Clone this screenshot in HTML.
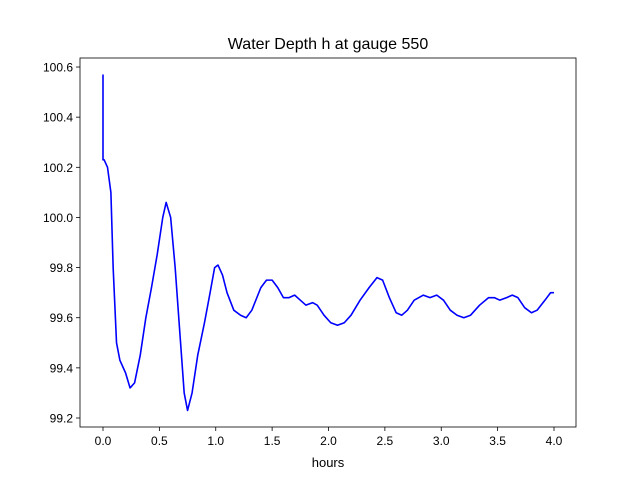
<!DOCTYPE html>
<html><head><meta charset="utf-8"><style>
body{margin:0;background:#fff;}
svg{display:block;font-family:"Liberation Sans",sans-serif;}
</style></head><body>
<svg id="chart" width="640" height="480">
<rect width="640" height="480" fill="#fff"/>
<text x="328" y="49" text-anchor="middle" font-size="16">Water Depth h at gauge 550</text>
<g id="axes"></g>
<text x="328" y="467" text-anchor="middle" font-size="13">hours</text>
</svg>
<script>
const times=[0,0,0.01,0.04,0.07,0.09,0.12,0.15,0.2,0.24,0.28,0.33,0.38,0.43,0.48,0.53,0.56,0.6,0.64,0.68,0.72,0.75,0.79,0.84,0.9,0.95,0.99,1.02,1.06,1.1,1.16,1.22,1.27,1.32,1.4,1.45,1.5,1.55,1.6,1.65,1.7,1.75,1.8,1.86,1.9,1.96,2.02,2.08,2.14,2.2,2.28,2.36,2.43,2.48,2.54,2.6,2.65,2.7,2.76,2.84,2.9,2.96,3.02,3.08,3.14,3.2,3.26,3.34,3.42,3.47,3.52,3.58,3.63,3.68,3.74,3.8,3.85,3.92,3.97,4.0];
const depths=[100.57,100.23,100.23,100.2,100.1,99.8,99.5,99.43,99.38,99.32,99.34,99.45,99.6,99.72,99.85,100.0,100.06,100.0,99.8,99.55,99.3,99.23,99.3,99.45,99.58,99.7,99.8,99.81,99.77,99.7,99.63,99.61,99.6,99.63,99.72,99.75,99.75,99.72,99.68,99.68,99.69,99.67,99.65,99.66,99.65,99.61,99.58,99.57,99.58,99.61,99.67,99.72,99.76,99.75,99.68,99.62,99.61,99.63,99.67,99.69,99.68,99.69,99.67,99.63,99.61,99.6,99.61,99.65,99.68,99.68,99.67,99.68,99.69,99.68,99.64,99.62,99.63,99.67,99.7,99.7];
const xTicks=[0,0.5,1,1.5,2,2.5,3,3.5,4];
const xTickLabels=["0.0","0.5","1.0","1.5","2.0","2.5","3.0","3.5","4.0"];
const yTicks=[99.2,99.4,99.6,99.8,100.0,100.2,100.4,100.6];
const yTickLabels=["99.2","99.4","99.6","99.8","100.0","100.2","100.4","100.6"];

const L=80,R=576,T=58,B=427;
const xs=t=>103+t*112.75;
const ys=v=>418-(v-99.2)/0.2*50.14;
const g=document.getElementById('axes');
const NS='http://www.w3.org/2000/svg';
function mk(tag,attrs){const e=document.createElementNS(NS,tag);for(const k in attrs)e.setAttribute(k,attrs[k]);g.appendChild(e);return e;}

xTicks.forEach((t,i)=>{
  const l=mk('line',{x1:xs(t),x2:xs(t),y1:B,y2:B+4,stroke:'#000','stroke-width':0.8});
  
  
  const tx=mk('text',{x:xs(t),y:B+18,'text-anchor':'middle','font-size':12});
  tx.textContent=xTickLabels[i];
  
  
});
yTicks.forEach((v,i)=>{
  const l=mk('line',{x1:L-4,x2:L,y1:ys(v),y2:ys(v),stroke:'#000','stroke-width':0.8});
  
  
  const tx=mk('text',{x:L-7,y:ys(v)+4.5,'text-anchor':'end','font-size':12});
  tx.textContent=yTickLabels[i];
  
  
});
const pts=times.map((t,i)=>xs(t).toFixed(2)+','+ys(depths[i]).toFixed(2)).join(' ');
const line=mk('polyline',{points:pts,fill:'none',stroke:'#0000ff','stroke-width':1.6,'stroke-linejoin':'round'});


const frame=mk('rect',{x:L,y:T,width:R-L,height:B-T,fill:'none',stroke:'#000','stroke-width':0.8});


</script>
</body></html>
